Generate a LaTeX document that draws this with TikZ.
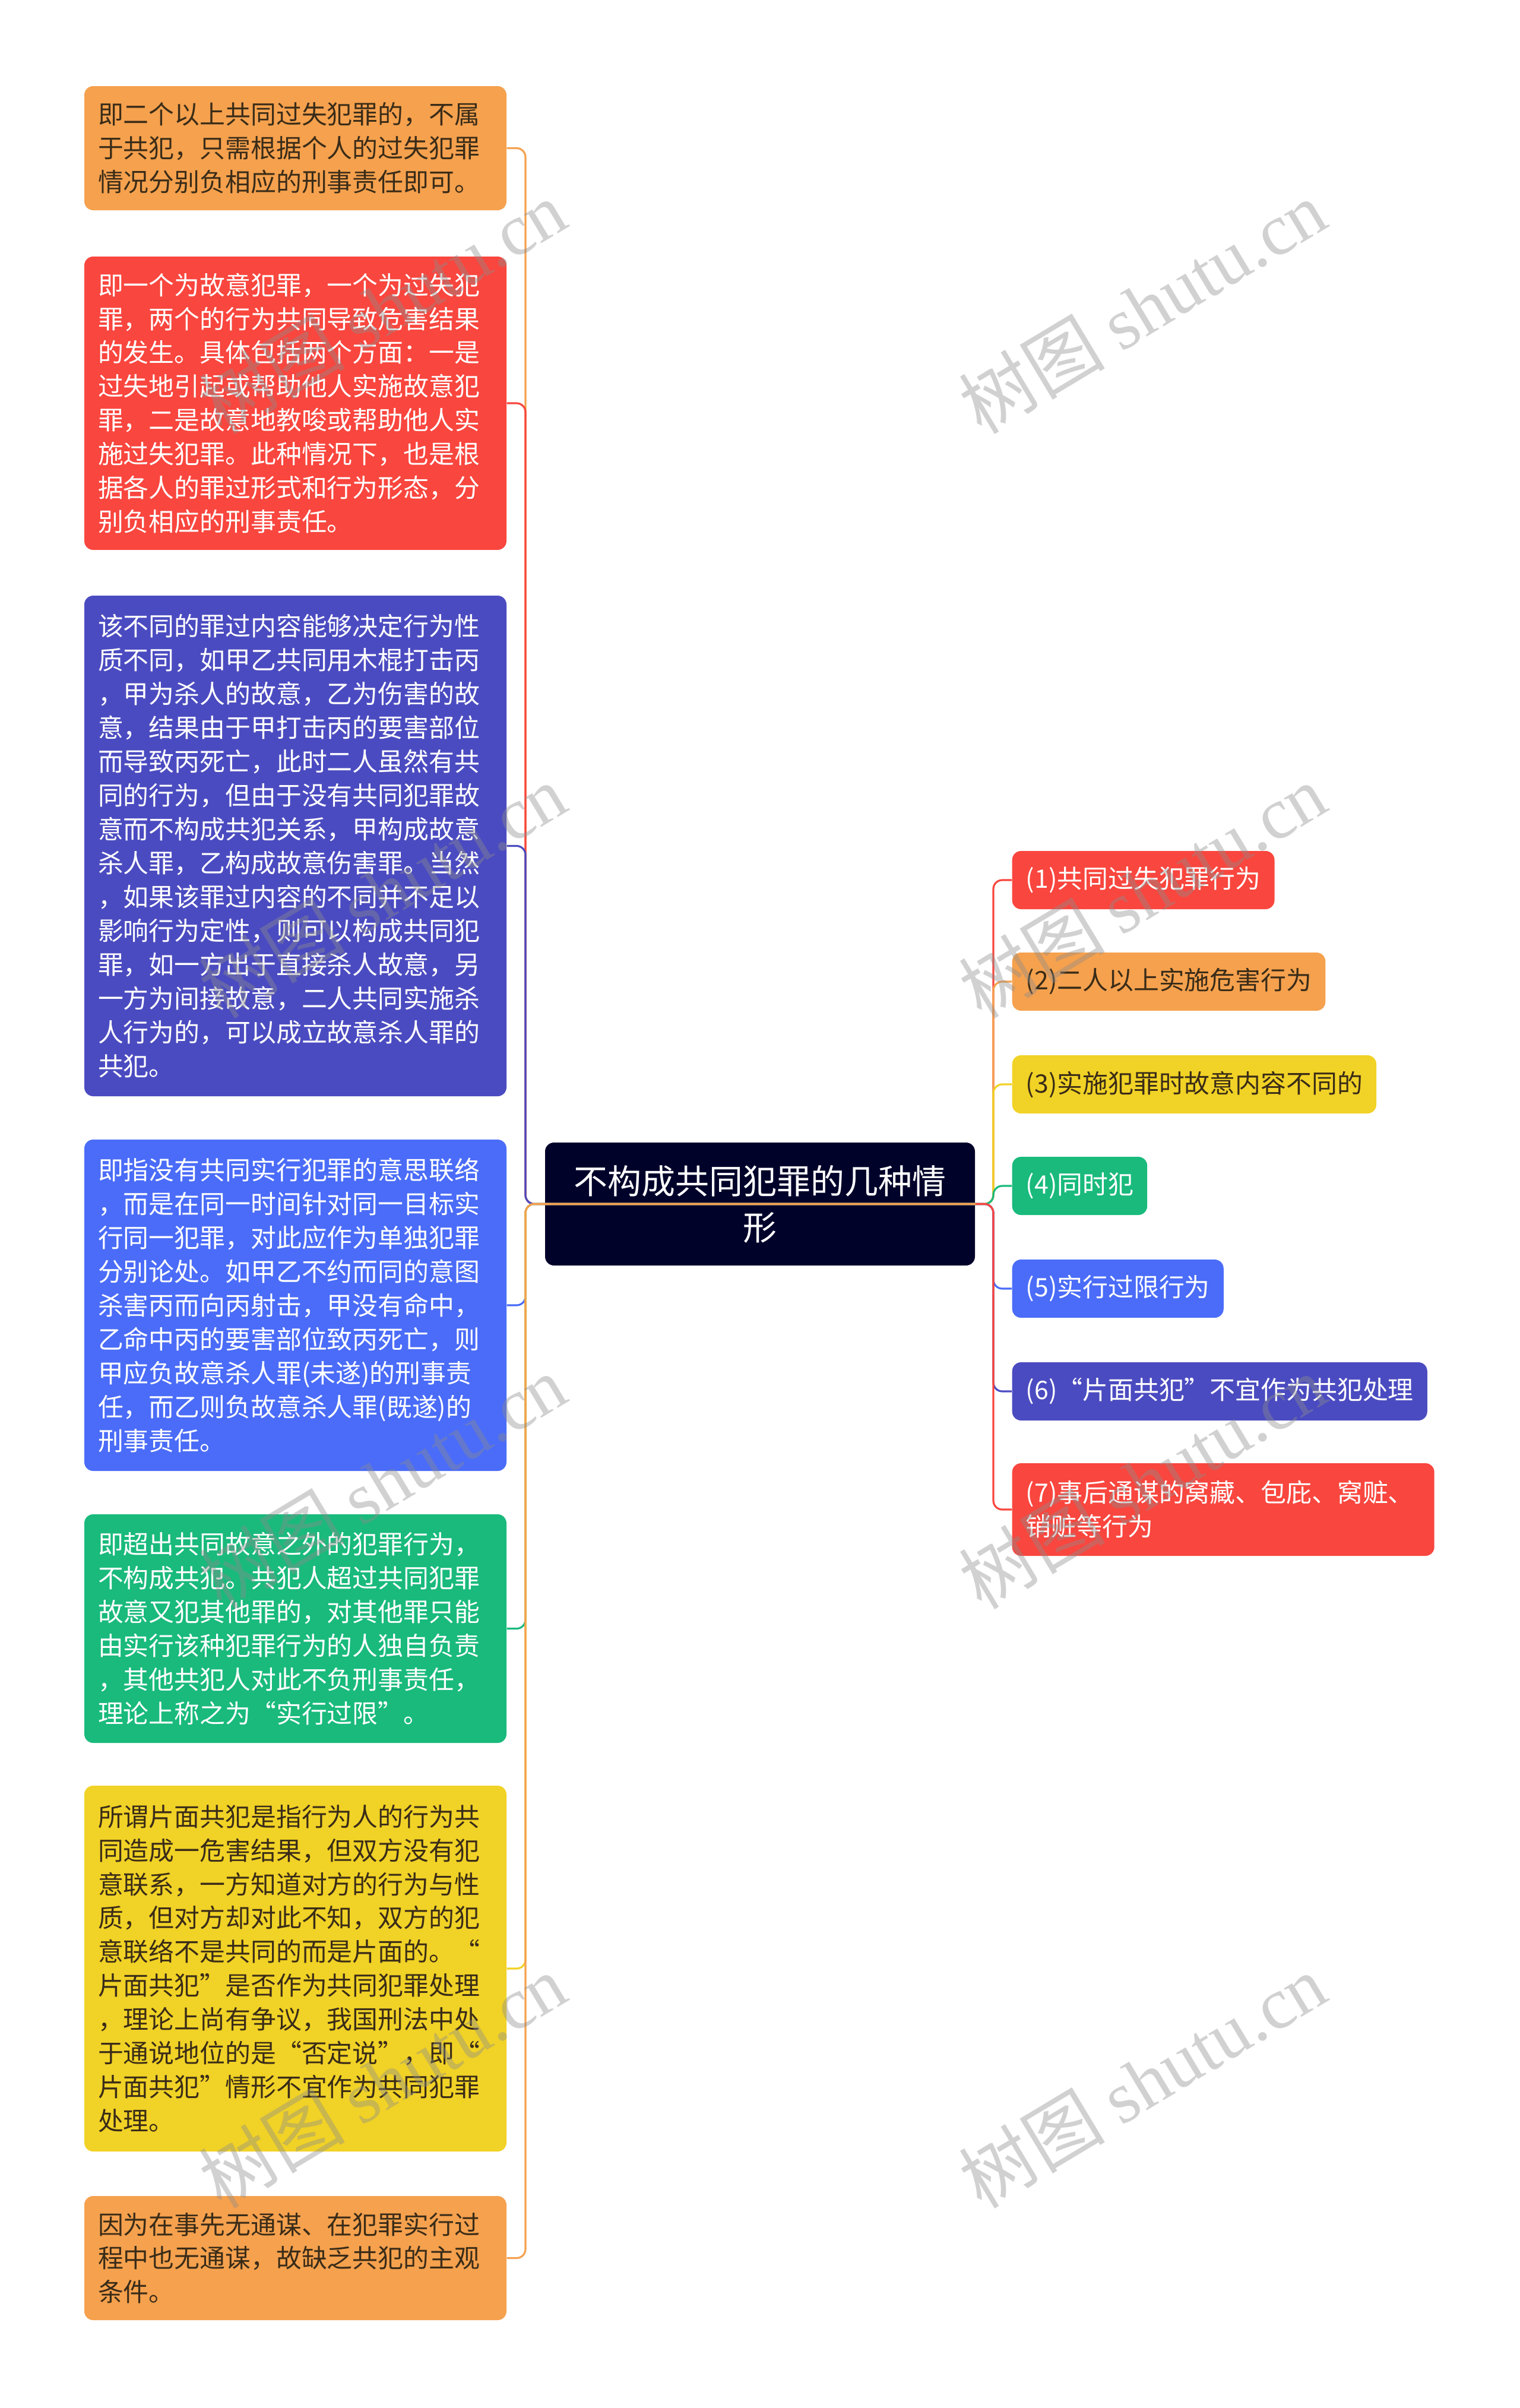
\documentclass[tikz,border=0pt]{standalone}
\usepackage{fontspec}
\setmainfont{Noto Sans CJK SC}
\newfontfamily\markfont{Liberation Serif}
\usetikzlibrary{positioning, calc}
\definecolor{boxorange}{HTML}{F5A14E}
\definecolor{boxred}{HTML}{F9463E}
\definecolor{boxpurple}{HTML}{4B4BC1}
\definecolor{boxblue}{HTML}{4A6CF8}
\definecolor{boxgreen}{HTML}{19BA7C}
\definecolor{boxyellow}{HTML}{F1D226}
\definecolor{rootnavy}{HTML}{00022A}
\definecolor{inkbrown}{HTML}{3A2C18}
\newcommand{\leftlink}[2]
{
	\draw[link, color=#1] (root.east) -- (root.east -| lt) |- (#2.east)
}
\newcommand{\rightlink}[2]
{
	\draw[link, color=#1] (root.west) -- (root.west -| rt) |- (#2.west)
}

\begin{document}
\begin{tikzpicture}[every node/.append style={align=left, rounded corners=0.15cm, inner xsep=0.23cm, inner ysep=0pt},
	note/.style={fill=#1, text=white, text width=6.65cm, font=\fontsize{12.2pt}{16.2pt}\selectfont},
	tag/.style={fill=#1, text=white, anchor=west, minimum height=0.98cm, font=\fontsize{12.2pt}{16.2pt}\selectfont},
	link/.style={line width=0.9pt, rounded corners=0.15cm},
	wm/.style={rotate=31, text=black!45, opacity=0.4, font=\fontsize{35pt}{40pt}\selectfont}]
	\useasboundingbox (0,0) rectangle (25.6,-40.55);
	\coordinate (lt) at (8.85,0);
	\coordinate (rt) at (16.73,0);
	% centre
	\node[fill=rootnavy, text=white, align=center, minimum width=7.24cm, minimum height=2.07cm, font=\fontsize{16.2pt}{22.2pt}\selectfont] (root) at (12.80,-20.275) {不构成共同犯罪的几种情\\形};
	% left side
	\node[note=boxorange, text=inkbrown, minimum height=2.09cm] (l1) at (4.975,-2.495) {即二个以上共同过失犯罪的，不属\\于共犯，只需根据个人的过失犯罪\\情况分别负相应的刑事责任即可。};
	\node[note=boxred, minimum height=4.94cm] (l2) at (4.975,-6.79) {即一个为故意犯罪，一个为过失犯\\罪，两个的行为共同导致危害结果\\的发生。具体包括两个方面：一是\\过失地引起或帮助他人实施故意犯\\罪，二是故意地教唆或帮助他人实\\施过失犯罪。此种情况下，也是根\\据各人的罪过形式和行为形态，分\\别负相应的刑事责任。};
	\node[note=boxpurple, minimum height=8.43cm] (l3) at (4.975,-14.245) {该不同的罪过内容能够决定行为性\\质不同，如甲乙共同用木棍打击丙\\，甲为杀人的故意，乙为伤害的故\\意，结果由于甲打击丙的要害部位\\而导致丙死亡，此时二人虽然有共\\同的行为，但由于没有共同犯罪故\\意而不构成共犯关系，甲构成故意\\杀人罪，乙构成故意伤害罪。当然\\，如果该罪过内容的不同并不足以\\影响行为定性，则可以构成共同犯\\罪，如一方出于直接杀人故意，另\\一方为间接故意，二人共同实施杀\\人行为的，可以成立故意杀人罪的\\共犯。};
	\node[note=boxblue, minimum height=5.58cm] (l4) at (4.975,-21.98) {即指没有共同实行犯罪的意思联络\\，而是在同一时间针对同一目标实\\行同一犯罪，对此应作为单独犯罪\\分别论处。如甲乙不约而同的意图\\杀害丙而向丙射击，甲没有命中，\\乙命中丙的要害部位致丙死亡，则\\甲应负故意杀人罪(未遂)的刑事责\\任，而乙则负故意杀人罪(既遂)的\\刑事责任。};
	\node[note=boxgreen, minimum height=3.85cm] (l5) at (4.975,-27.425) {即超出共同故意之外的犯罪行为，\\不构成共犯。共犯人超过共同犯罪\\故意又犯其他罪的，对其他罪只能\\由实行该种犯罪行为的人独自负责\\，其他共犯人对此不负刑事责任，\\理论上称之为“实行过限”。};
	\node[note=boxyellow, text=inkbrown, minimum height=6.16cm] (l6) at (4.975,-33.15) {所谓片面共犯是指行为人的行为共\\同造成一危害结果，但双方没有犯\\意联系，一方知道对方的行为与性\\质，但对方却对此不知，双方的犯\\意联络不是共同的而是片面的。“\\片面共犯”是否作为共同犯罪处理\\，理论上尚有争议，我国刑法中处\\于通说地位的是“否定说”，即“\\片面共犯”情形不宜作为共同犯罪\\处理。};
	\node[note=boxorange, text=inkbrown, minimum height=2.09cm] (l7) at (4.975,-38.025) {因为在事先无通谋、在犯罪实行过\\程中也无通谋，故缺乏共犯的主观\\条件。};
	% right side
	\node[tag=boxred] (r1) at (17.04,-14.82) {(1)共同过失犯罪行为};
	\node[tag=boxorange, text=inkbrown] (r2) at (17.04,-16.53) {(2)二人以上实施危害行为};
	\node[tag=boxyellow, text=inkbrown] (r3) at (17.04,-18.26) {(3)实施犯罪时故意内容不同的};
	\node[tag=boxgreen] (r4) at (17.04,-19.97) {(4)同时犯};
	\node[tag=boxblue] (r5) at (17.04,-21.70) {(5)实行过限行为};
	\node[tag=boxpurple] (r6) at (17.04,-23.43) {(6)“片面共犯”不宜作为共犯处理};
	\node[tag=boxred, text width=6.65cm, minimum height=1.56cm] (r7) at (17.04,-25.42) {(7)事后通谋的窝藏、包庇、窝赃、\\销赃等行为};
	% links
	\foreach \c [count=\i] in {boxred,boxorange,boxyellow,boxgreen,boxblue,boxpurple,boxred}
		\rightlink{\c}{r\i};
	\foreach \c [count=\i] in {boxorange,boxred,boxpurple,boxblue,boxgreen,boxyellow,boxorange}
		\leftlink{\c}{l\i};
	% watermark
	\foreach \y [count=\i] in {5.17,15.00,24.95,35.04} {
		\node[wm] (wl\i) at (6.44,-\y) {树图\ {\markfont shutu.cn}};
		\node[wm] (wr\i) at (19.24,-\y) {树图\ {\markfont shutu.cn}};
	}
\end{tikzpicture}
\end{document}
